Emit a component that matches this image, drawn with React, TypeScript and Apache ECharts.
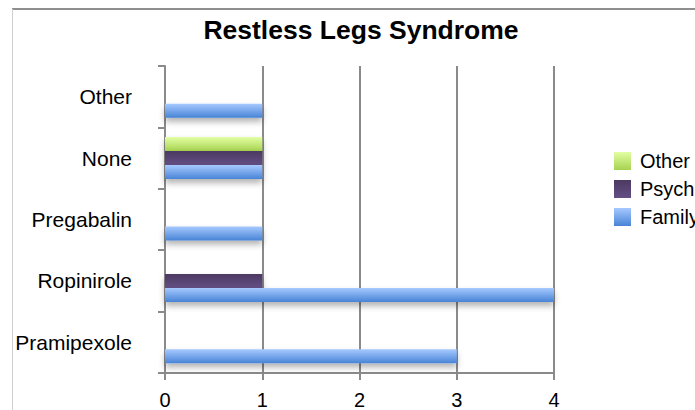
import React, { useEffect, useRef } from "react";
import * as echarts from "echarts";

const categories = ["Pramipexole", "Ropinirole", "Pregabalin", "None", "Other"];
const familyValues = [3, 4, 1, 1, 1];
const psychValues = [0, 1, 0, 1, 0];
const otherValues = [0, 0, 0, 1, 0];
const seriesNames = ["Family Doctor", "Psychiatrist", "Other"];
const legendOrder = ["Other", "Psychiatrist", "Family Doctor"];
const xTicks = [0, 1, 2, 3, 4];

const FONT = "'Liberation Sans', Arial, Helvetica, sans-serif";

function grad(top: string, bottom: string) {
  return new echarts.graphic.LinearGradient(0, 0, 0, 1, [
    { offset: 0, color: top },
    { offset: 1, color: bottom },
  ]);
}

export default function App() {
  const ref = useRef<HTMLDivElement>(null);
  useEffect(() => {
    if (!ref.current) return;
    const chart = echarts.init(ref.current, undefined, { renderer: "svg" });
    const shadow = {
      shadowColor: "rgba(0,0,0,0.3)",
      shadowBlur: 6,
      shadowOffsetY: 4,
    };
    const mk = (name: string, data: number[], top: string, bottom: string) => ({
      name,
      type: "bar",
      data,
      barWidth: 14,
      barGap: "0%",
      itemStyle: { color: grad(top, bottom), ...shadow },
    });
    chart.setOption({
      animation: false,
      title: {
        text: "Restless Legs Syndrome",
        left: 356,
        textAlign: "center",
        top: 11,
        textStyle: { fontFamily: FONT, fontSize: 26.5, fontWeight: "bold", color: "#000" },
      },
      legend: {
        orient: "vertical",
        left: 609,
        top: 146,
        itemWidth: 17,
        itemHeight: 18,
        itemGap: 8,
        icon: "rect",
        data: legendOrder,
        textStyle: { fontFamily: FONT, fontSize: 20, color: "#000", padding: [0, 0, 0, 4] },
      },
      grid: { left: 165, right: 141, top: 66, bottom: 37, containLabel: false },
      xAxis: {
        type: "value",
        min: 0,
        max: 4,
        interval: 1,
        data: xTicks,
        axisLine: { show: true, lineStyle: { color: "#8a8a8a", width: 2 } },
        axisTick: { show: true, length: 7, lineStyle: { color: "#8a8a8a", width: 2 } },
        splitLine: { show: true, lineStyle: { color: "#8a8a8a", width: 2 } },
        axisLabel: { fontFamily: FONT, fontSize: 20, color: "#000", margin: 17 },
      },
      yAxis: {
        type: "category",
        data: categories,
        axisLine: { show: true, lineStyle: { color: "#8a8a8a", width: 2 } },
        axisTick: { show: true, length: 7, lineStyle: { color: "#8a8a8a", width: 2 } },
        axisLabel: { fontFamily: FONT, fontSize: 21, color: "#000", margin: 33 },
        splitLine: { show: false },
      },
      graphic: [
        { type: "line", shape: { x1: 12, y1: 9, x2: 695, y2: 9 }, style: { stroke: "#8f8f8f", lineWidth: 2 } },
        { type: "line", shape: { x1: 12.5, y1: 9, x2: 12.5, y2: 410 }, style: { stroke: "#d0d0d0", lineWidth: 1 } },
      ],
      series: [
        mk(seriesNames[2], otherValues, "#e2ffa4", "#a6d24f"),
        mk(seriesNames[1], psychValues, "#4c3a62", "#634f84"),
        mk(seriesNames[0], familyValues, "#a6c9ff", "#4884d6"),
      ],
    });
    return () => chart.dispose();
  }, []);
  return (
    <div
      ref={ref}
      style={{ position: "fixed", left: 0, top: 0, width: 695, height: 410, background: "#fff" }}
    />
  );
}
